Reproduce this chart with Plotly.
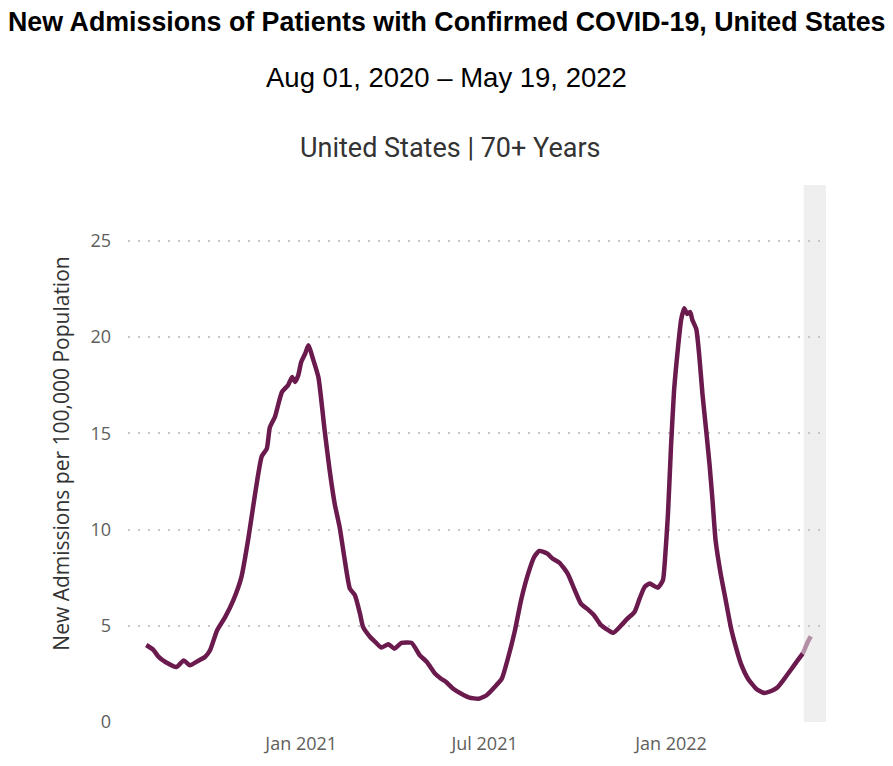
import plotly.graph_objects as go

dates = [
    "2020-08-01", "2020-08-08", "2020-08-13", "2020-08-20", "2020-08-31",
    "2020-09-07", "2020-09-13", "2020-09-22", "2020-09-28", "2020-10-03",
    "2020-10-10", "2020-10-18", "2020-10-26", "2020-11-03", "2020-11-10",
    "2020-11-16", "2020-11-23", "2020-11-28", "2020-12-01", "2020-12-06",
    "2020-12-13", "2020-12-19", "2020-12-23", "2020-12-26", "2020-12-29",
    "2021-01-01", "2021-01-05", "2021-01-08", "2021-01-13", "2021-01-18",
    "2021-01-24", "2021-01-29", "2021-02-03", "2021-02-08", "2021-02-13",
    "2021-02-18", "2021-02-23", "2021-02-28", "2021-03-03", "2021-03-10",
    "2021-03-15", "2021-03-21", "2021-03-28", "2021-04-03", "2021-04-10",
    "2021-04-20", "2021-04-28", "2021-05-05", "2021-05-13", "2021-05-19",
    "2021-05-24", "2021-05-31", "2021-06-08", "2021-06-16", "2021-06-25",
    "2021-07-03", "2021-07-11", "2021-07-18", "2021-07-24", "2021-07-31",
    "2021-08-06", "2021-08-13", "2021-08-19", "2021-08-24", "2021-09-01",
    "2021-09-06", "2021-09-13", "2021-09-21", "2021-09-28", "2021-10-04",
    "2021-10-12", "2021-10-17", "2021-10-24", "2021-10-31", "2021-11-05",
    "2021-11-13", "2021-11-19", "2021-11-26", "2021-12-01", "2021-12-06",
    "2021-12-11", "2021-12-19", "2021-12-24", "2021-12-26", "2021-12-29",
    "2022-01-01", "2022-01-04", "2022-01-08", "2022-01-11", "2022-01-14",
    "2022-01-17", "2022-01-20", "2022-01-22", "2022-01-26", "2022-01-29",
    "2022-02-01", "2022-02-05", "2022-02-08", "2022-02-11", "2022-02-14",
    "2022-02-19", "2022-02-24", "2022-03-01", "2022-03-06", "2022-03-11",
    "2022-03-18", "2022-03-26", "2022-04-03", "2022-04-10", "2022-04-16",
    "2022-04-23", "2022-04-29", "2022-05-06", "2022-05-11", "2022-05-16",
    "2022-05-19",
]

admissions = [
    4.0, 3.75, 3.4, 3.12, 2.86,
    3.2, 2.95, 3.2, 3.38, 3.73,
    4.77, 5.46, 6.33, 7.54, 9.6,
    11.7, 13.8, 14.2, 15.3, 15.85,
    17.15, 17.5, 17.93, 17.67, 18.0,
    18.7, 19.15, 19.58, 18.8, 17.9,
    15.2, 13.1, 11.35, 10.1, 8.4,
    6.93, 6.59, 5.63, 4.94, 4.42,
    4.16, 3.87, 4.04, 3.81, 4.11,
    4.11, 3.47, 3.12, 2.52, 2.25,
    2.08, 1.73, 1.47, 1.27, 1.21,
    1.39, 1.82, 2.25, 3.3, 4.77,
    6.33, 7.71, 8.58, 8.89, 8.75,
    8.49, 8.27, 7.71, 6.85, 6.15,
    5.8, 5.55, 5.03, 4.77, 4.63,
    5.03, 5.37, 5.72, 6.41, 7.02,
    7.19, 6.98, 7.36, 8.4, 10.8,
    14.3, 17.2, 19.5, 20.9, 21.5,
    21.2, 21.3, 20.9, 20.4, 18.97,
    17.07, 15.0, 13.4, 11.5, 9.44,
    7.71, 6.33, 4.94, 3.9, 3.03,
    2.25, 1.73, 1.51, 1.61, 1.79,
    2.25, 2.69, 3.2, 3.55, 4.16,
    4.45,
]

incomplete_start = "2022-05-11"
x_range = ["2020-07-14", "2022-06-03"]
y_ticks = [0, 5, 10, 15, 20, 25]
x_ticks = ["2021-01-01", "2021-07-01", "2022-01-01"]
x_tick_labels = ["Jan 2021", "Jul 2021", "Jan 2022"]

main_color = "#6B1A4E"
tail_color = "rgba(107,26,78,0.45)"

cut = dates.index(incomplete_start)

fig = go.Figure()
fig.add_trace(go.Scatter(
    x=dates[:cut + 1], y=admissions[:cut + 1], mode="lines",
    line=dict(color=main_color, width=4.5, shape="spline", smoothing=0.5),
    showlegend=False,
))
fig.add_trace(go.Scatter(
    x=dates[cut:], y=admissions[cut:], mode="lines",
    line=dict(color=tail_color, width=4.5, shape="spline", smoothing=0.5),
    showlegend=False,
))

fig.add_shape(type="rect", xref="x", yref="paper",
              x0="2022-05-12", x1=x_range[1], y0=0, y1=1,
              fillcolor="#EFEFEF", line=dict(width=0), layer="below")

# figure is placed at an 8px body offset in the page
W, H = 877, 750
L, R, T, B = 120, 59, 177, 36
plot_w = W - L - R
plot_h = H - T - B

def px_x(fig_x):
    return (fig_x - L) / plot_w

def py(fig_y):
    return 1 + (T - fig_y) / plot_h

fig.add_annotation(text="<b>New Admissions of Patients with Confirmed COVID-19, United States</b>",
                   xref="paper", yref="paper", x=px_x(438), y=py(14),
                   xanchor="center", yanchor="middle", showarrow=False,
                   font=dict(family="Liberation Sans, Arial, sans-serif", size=26.8, color="#000000"))
fig.add_annotation(text="Aug 01, 2020 – May 19, 2022",
                   xref="paper", yref="paper", x=px_x(438), y=py(70),
                   xanchor="center", yanchor="middle", showarrow=False,
                   font=dict(family="Liberation Sans, Arial, sans-serif", size=27.5, color="#000000"))
fig.add_annotation(text="United States | 70+ Years",
                   xref="paper", yref="paper", x=px_x(442), y=py(140),
                   xanchor="center", yanchor="middle", showarrow=False,
                   font=dict(family="Roboto, sans-serif", size=27, color="#333333"))

fig.update_layout(
    width=W, height=H,
    margin=dict(l=L, r=R, t=T, b=B, autoexpand=False),
    paper_bgcolor="white", plot_bgcolor="white",
    font=dict(family="Open Sans, sans-serif", color="#605E5C"),
    xaxis=dict(
        range=x_range, tickvals=x_ticks, ticktext=x_tick_labels,
        showgrid=False, zeroline=False, showline=False, automargin=False,
        tickfont=dict(size=18, color="#605E5C"), ticks="", ticklabelstandoff=9,
    ),
    yaxis=dict(
        range=[0, 27.9], tickvals=y_ticks, automargin=False,
        showgrid=True, gridcolor="#C8C6C4", gridwidth=1.5, griddash="2px,8px",
        zeroline=False, showline=False, ticks="",
        tickfont=dict(size=18, color="#605E5C"), ticklabelstandoff=16,
        title=dict(text="New Admissions per 100,000 Population",
                   font=dict(size=21, color="#333333"), standoff=15),
    ),
)

fig.write_html("out.html")
